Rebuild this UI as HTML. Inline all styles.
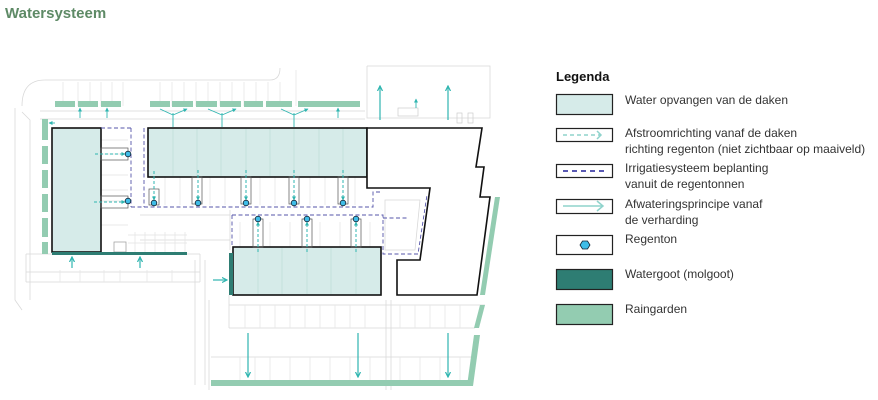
<!DOCTYPE html>
<html><head><meta charset="utf-8"><style>
html,body{margin:0;padding:0;background:#fff;width:878px;height:400px;overflow:hidden}
svg{display:block}
text{font-family:"Liberation Sans",sans-serif}
</style></head><body>
<svg width="878" height="400" viewBox="0 0 878 400" xmlns="http://www.w3.org/2000/svg">
<defs>
<marker id="ah" markerWidth="6" markerHeight="6" refX="5" refY="3" orient="auto" markerUnits="userSpaceOnUse"><path d="M0,0.5 L5,3 L0,5.5" fill="none" stroke="#2fb5b0" stroke-width="1.2"/></marker>
<marker id="ah2" markerWidth="4" markerHeight="4" refX="3.5" refY="2" orient="auto" markerUnits="userSpaceOnUse"><path d="M0,0 L4,2 L0,4z" fill="#2fb5b0"/></marker>
</defs>
<text x="5" y="18" font-size="15" font-weight="bold" fill="#5e8a66">Watersysteem</text>

<!-- light grey background plan -->
<g stroke="#d9d9d9" stroke-width="0.8" fill="none">
<path d="M22,106 Q22,80 45,80 L270,80 Q280,80 280,68"/>
<path d="M15,108 L15,300 L22,310"/>
<path d="M22,112 L30,120 L30,300"/>
<path d="M40,111 L365,111 M40,119 L365,119"/>
<path d="M367,66 L367,118 L490,118 L490,66 L367,66"/>
<path d="M26,254 L200,254 M26,272 L200,272 M26,282 L200,282 M26,254 L26,282 M200,254 L200,282"/>
<path d="M195,260 L195,385 M205,260 L205,385 M209,300 L209,390"/>
<path d="M229,305 L485,305 M229,328 L475,328 M229,295 L229,328"/>
<path d="M386,300 L386,390 M391,300 L391,390"/>
<path d="M211,357 L475,357"/>
<path d="M140,215 L230,215 M140,240 L230,240 M230,210 L230,250"/>
<path d="M385,200 L420,200 L415,250 L385,250 z"/>
</g>
<g stroke="#e3e3e3" stroke-width="0.7">
<path d="M63,82 V106 M78,82 V106 M90,82 V106 M101,82 V106 M112,82 V106 M123,82 V106 M160,82 V106 M172,82 V106 M184,82 V106 M196,82 V106 M208,82 V106 M220,82 V106 M232,82 V106 M244,82 V106 M256,82 V106 M268,82 V106 M280,82 V106 M296,70 V106"/>
<path d="M60,270 V282 M80,270 V282 M104,270 V282 M120,270 V282 M147,270 V282 M172,270 V282"/>
<path d="M245,305 V328 M260,305 V328 M275,305 V328 M290,305 V328 M305,305 V328 M320,305 V328 M335,305 V328 M350,305 V328 M365,305 V328 M400,305 V328 M415,305 V328 M430,305 V328 M445,305 V328 M460,305 V328"/>
<path d="M240,357 V380 M255,357 V380 M270,357 V380 M290,357 V380 M310,357 V380 M330,357 V380 M350,357 V380 M370,357 V380 M400,357 V380 M420,357 V380 M440,357 V380 M460,357 V380"/>
<path d="M101,140 H128 M101,154 H128 M101,175 H128 M101,190 H128 M101,201 H128 M101,225 H128"/>
<path d="M165,177 V205 M180,177 V205 M210,177 V205 M225,177 V205 M260,177 V205 M275,177 V205 M310,177 V205 M325,177 V205 M355,177 V205"/>
<path d="M240,222 V247 M270,222 V247 M290,222 V247 M320,222 V247 M340,222 V247 M370,222 V247"/>
<path d="M128,235 H187 M128,243 H187 M135,232 V252 M145,232 V252 M155,232 V252 M165,232 V252 M175,232 V252 M185,232 V252"/>
</g>
<rect x="114" y="242" width="12" height="10" fill="#fff" stroke="#999" stroke-width="0.7"/>
<rect x="398" y="108" width="20" height="8" fill="none" stroke="#ccc" stroke-width="0.7"/>
<rect x="457" y="113" width="5" height="10" fill="none" stroke="#ccc" stroke-width="0.7"/>
<rect x="468" y="113" width="5" height="10" fill="none" stroke="#ccc" stroke-width="0.7"/>

<!-- raingardens -->
<g fill="#93ccb1">
<rect x="55" y="101" width="20" height="6"/><rect x="78" y="101" width="20" height="6"/><rect x="101" y="101" width="20" height="6"/>
<rect x="150" y="101" width="20" height="6"/><rect x="172" y="101" width="21" height="6"/><rect x="196" y="101" width="21" height="6"/>
<rect x="220" y="101" width="21" height="6"/><rect x="244" y="101" width="19" height="6"/><rect x="266" y="101" width="26" height="6"/>
<rect x="298" y="101" width="62" height="6"/>
<rect x="42" y="119" width="6" height="21"/><rect x="42" y="146" width="6" height="18"/><rect x="42" y="170" width="6" height="18"/>
<rect x="42" y="194" width="6" height="18"/><rect x="42" y="218" width="6" height="19"/><rect x="42" y="242" width="6" height="12"/>
<polygon points="495,197 500,197 485,295 480,295"/>
<polygon points="480,305 485,305 479,328 474,328"/>
<polygon points="474,335 480,335 473,386 467,386"/>
<rect x="211" y="380" width="262" height="6"/>
</g>

<!-- roofs -->
<g fill="#d6ebe9" stroke="#111" stroke-width="1.6">
<rect x="52" y="128" width="49" height="124"/>
<rect x="148" y="128" width="219" height="49"/>
<rect x="233" y="247" width="148" height="48"/>
</g>
<g stroke="#b8d9d5" stroke-width="0.6">
<path d="M173,129 V176 M197,129 V176 M221,129 V176 M246,129 V176 M270,129 V176 M294,129 V176 M319,129 V176 M343,129 V176"/>
<path d="M258,248 V294 M282,248 V294 M307,248 V294 M331,248 V294 M356,248 V294"/>
</g>
<polygon points="367,128 482,128 476,167 484,167 480,197 490,197 477,295 397,295 397,260 420,260 430,188 367,188" fill="#fff" stroke="#111" stroke-width="1.6"/>

<!-- molgoot -->
<rect x="52" y="252" width="135" height="3" fill="#2e7d73"/>
<rect x="229" y="253" width="4" height="42" fill="#2e7d73"/>

<!-- irrigation dashed navy -->
<g fill="none" stroke="#5555aa" stroke-width="0.9" stroke-dasharray="4,2.5">
<path d="M131,128 V207 M144,128 V207"/>
<path d="M131,207 H373 V192 H380"/>
<path d="M232,215 V247 M232,215 H383 V254 H418 L427,195"/>
<path d="M383,218 H408"/>
<path d="M101,128 H131"/>
</g>

<!-- small stalls around regentons -->
<g fill="none" stroke="#555" stroke-width="0.7">
<rect x="101" y="148" width="27" height="12"/><rect x="101" y="196" width="27" height="12"/>
<rect x="149" y="189" width="10" height="16"/>
<rect x="192" y="177" width="10" height="27"/><rect x="241" y="177" width="10" height="27"/><rect x="289" y="177" width="10" height="27"/><rect x="338" y="177" width="10" height="27"/>
<rect x="253" y="219" width="10" height="28"/><rect x="302" y="219" width="10" height="28"/><rect x="351" y="219" width="10" height="28"/>
</g>

<!-- roof flow dashed teal -->
<g fill="none" stroke="#2fb5b0" stroke-width="1" stroke-dasharray="3,2" marker-end="url(#ah2)">
<path d="M95,154 H125"/><path d="M94,202 H125"/>
<path d="M154,171 V200"/><path d="M198,170 V200"/><path d="M246,170 V200"/><path d="M294,170 V200"/><path d="M343,170 V200"/>
<path d="M258,252 V222"/><path d="M307,252 V222"/><path d="M356,252 V222"/>
</g>
<!-- regentons -->
<g fill="#3fbde8" stroke="#123" stroke-width="0.8">
<circle cx="128" cy="154" r="2.8"/><circle cx="128" cy="201" r="2.8"/><circle cx="154" cy="203" r="2.8"/><circle cx="198" cy="203" r="2.8"/><circle cx="246" cy="203" r="2.8"/><circle cx="294" cy="203" r="2.8"/><circle cx="343" cy="203" r="2.8"/><circle cx="258" cy="219" r="2.8"/><circle cx="307" cy="219" r="2.8"/><circle cx="356" cy="219" r="2.8"/>
</g>

<!-- surface drainage arrows -->
<g fill="none" stroke="#2fb5b0" stroke-width="1.2" marker-end="url(#ah)">
<path d="M72,268 V257"/><path d="M140,268 V257"/>
<path d="M213,280 H227"/>
<path d="M248,333 V377"/><path d="M358,333 V377"/><path d="M448,333 V377"/>
<path d="M380,120 V86"/><path d="M448,120 V86"/>
</g>
<g fill="none" stroke="#2fb5b0" stroke-width="0.9" marker-end="url(#ah2)">
<path d="M80,118 V108"/><path d="M107,118 V108"/><path d="M338,118 V108"/><path d="M416,108 V99"/>
<path d="M173,127 V113 M173,115 L160,109 M173,115 L187,109"/>
<path d="M222,127 V113 M222,115 L208,109 M222,115 L236,109"/>
<path d="M294,127 V113 M294,115 L281,109 M294,115 L308,109"/>
<path d="M55,123 H49"/>
</g>

<!-- legend -->
<text x="556" y="81" font-size="13" font-weight="bold" fill="#111">Legenda</text>
<g stroke="#222" stroke-width="1.2">
<rect x="556.5" y="94.5" width="56" height="20" fill="#d6ebe9"/>
<rect x="556.5" y="128.5" width="56" height="13" fill="#fff"/>
<rect x="556.5" y="164.5" width="56" height="13" fill="#fff"/>
<rect x="556.5" y="199.5" width="56" height="14" fill="#fff"/>
<rect x="556.5" y="235.5" width="56" height="19" fill="#fff"/>
<rect x="556.5" y="269.5" width="56" height="20" fill="#2e7d73"/>
<rect x="556.5" y="304.5" width="56" height="20" fill="#93ccb1"/>
</g>
<path d="M563,135 H600" stroke="#8fd3cc" stroke-width="1.5" stroke-dasharray="4,3" fill="none"/>
<path d="M597,131 L601,135 L597,139" stroke="#8fd3cc" stroke-width="1.5" fill="none"/>
<path d="M563,171 H604" stroke="#22229a" stroke-width="1.5" stroke-dasharray="5,4" fill="none"/>
<path d="M563,206 H603 M597,201 L603,206 L597,211" stroke="#8fd3cc" stroke-width="1.5" fill="none"/>
<polygon points="580,245 582.5,241 587.5,241 590,245 587.5,249 582.5,249" fill="#3fbde8" stroke="#123" stroke-width="0.8"/>
<g font-size="12" fill="#333">
<text x="625" y="104">Water opvangen van de daken</text>
<text x="625" y="137">Afstroomrichting vanaf de daken</text>
<text x="625" y="153">richting regenton (niet zichtbaar op maaiveld)</text>
<text x="625" y="172">Irrigatiesysteem beplanting</text>
<text x="625" y="188">vanuit de regentonnen</text>
<text x="625" y="208">Afwateringsprincipe vanaf</text>
<text x="625" y="224">de verharding</text>
<text x="625" y="243">Regenton</text>
<text x="625" y="278">Watergoot (molgoot)</text>
<text x="625" y="313">Raingarden</text>
</g>
</svg>
</body></html>
